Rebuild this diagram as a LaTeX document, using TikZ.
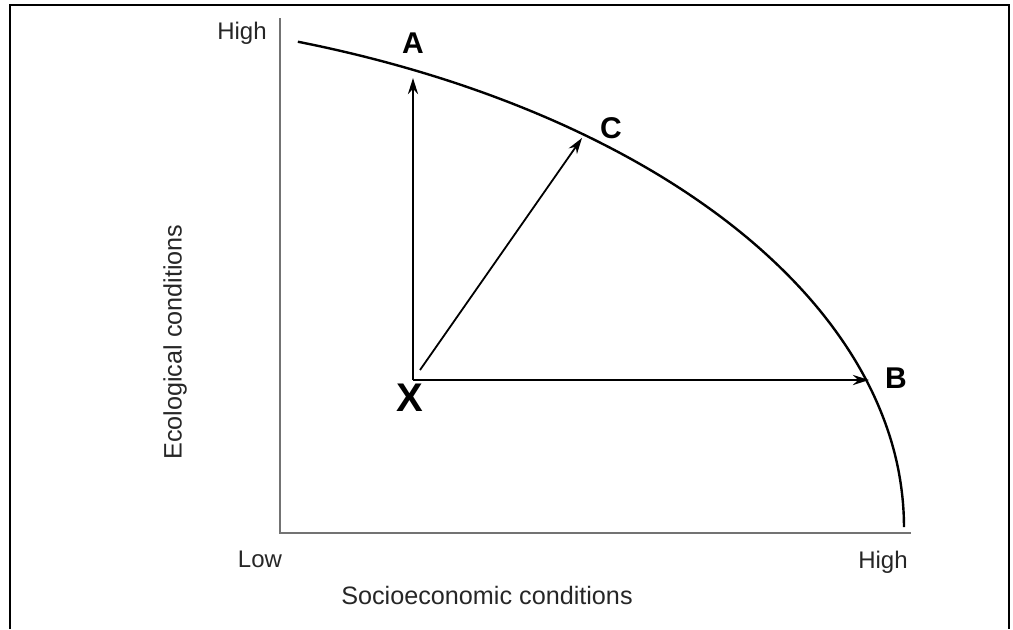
\documentclass[tikz,border=0pt]{standalone}
\usepackage{fontspec}
\setmainfont{Liberation Sans}
\usetikzlibrary{arrows.meta}
\begin{document}
\begin{tikzpicture}[x=0.5pt,y=-0.5pt,
  axis/.style={draw=black!55,line width=1.2pt},
  frameline/.style={draw=black,line width=1pt},
  vec/.style={draw=black,line width=1.4pt,-{Stealth[length=8pt,width=5pt]}},
  diag/.style={draw=black,line width=0.9pt,-{Stealth[length=8pt,width=5pt]}},
  pt/.style={font=\bfseries\fontsize{15}{15}\selectfont,inner sep=0pt},
  axlab/.style={font=\fontsize{12}{12}\selectfont,inner sep=0pt,text=black!85},
  ttl/.style={font=\fontsize{12.6}{13}\selectfont,inner sep=0pt,text=black!85}]
\useasboundingbox (0,0) rectangle (1013,629);
% frame
\draw[frameline] (10,629) -- (10,5) -- (1009,5) -- (1009,629);
% axes
\draw[axis] (280,18) -- (280,533) -- (911,533);
% curve
\draw[line width=1.2pt,domain=70.76:0,samples=80,smooth] plot ({904*cos(\x)},{527-514*sin(\x)});
% points
\coordinate (x0) at (413,380);
\coordinate (xd) at (420,370);
\coordinate (a) at (413,78);
\coordinate (c) at (582,138);
\coordinate (b) at (869,380);
\draw[vec] (x0) -- (a);
\draw[vec] (x0) -- (b);
\draw[diag] (xd) -- (c);
% labels
\node[pt] (la) at (413,43) {A};
\node[pt] (lc) at (611,128) {C};
\node[pt] (lb) at (896,378) {B};
\node[pt,font=\bfseries\fontsize{20}{20}\selectfont] (lx) at (410,398) {X};
\node[axlab] (hy) at (242,33) {High};
\node[axlab] (lo) at (260,559) {Low};
\node[axlab] (hx) at (883,562) {High};
\node[ttl] (sx) at (487,595) {Socioeconomic conditions};
\node[ttl,rotate=90] (ey) at (175,342) {Ecological conditions};
\end{tikzpicture}
\end{document}
